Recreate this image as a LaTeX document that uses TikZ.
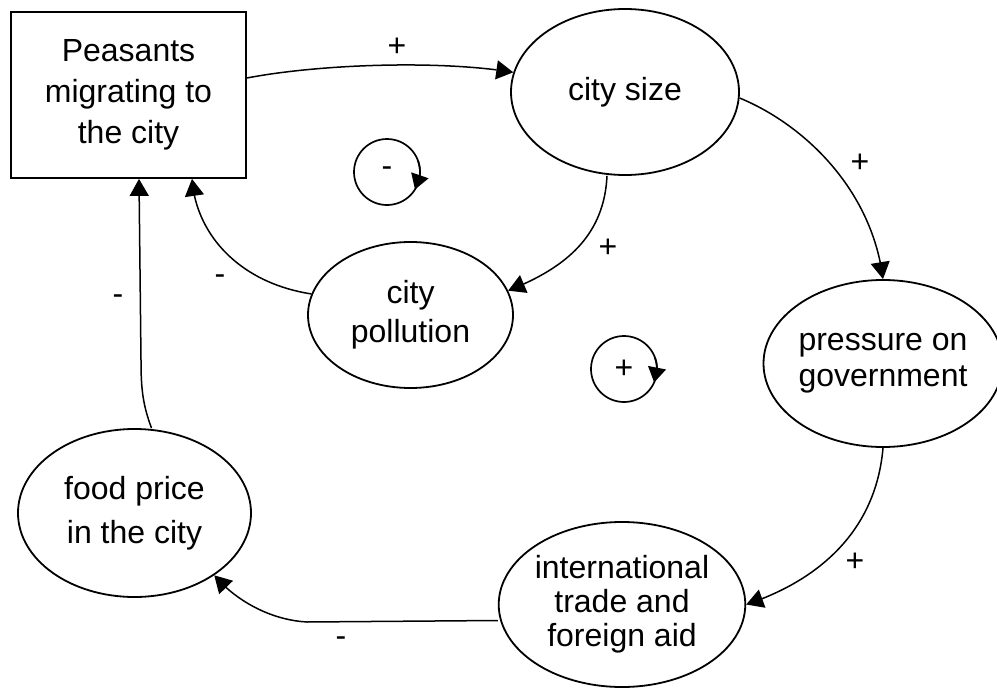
\documentclass[tikz,border=0pt]{standalone}
\usepackage{fontspec}
\setmainfont{Liberation Sans}
\usetikzlibrary{arrows.meta,shapes.geometric,bending}
\begin{document}
\begin{tikzpicture}[x=1pt,y=-1pt,
  every node/.style={inner sep=0pt},
  ell/.style={draw, ellipse, line width=1.8pt, align=center},
  boxnode/.style={draw, rectangle, line width=1.8pt, align=center},
  link/.style={line width=1.5pt, -{Triangle[length=17pt,width=19pt]}},
  sign/.style={font=\fontsize{32}{32}\selectfont},
  loopc/.style={draw, circle, line width=1.7pt, minimum size=66pt, font=\fontsize{32}{32}\selectfont},
  looparr/.style={line width=1.7pt, -{Triangle[length=15pt,width=18pt]}}
]
\useasboundingbox (0,0) rectangle (997,688);

% nodes
\node[boxnode, minimum width=235pt, minimum height=166pt, font=\fontsize{32}{41}\selectfont] (peas) at (128.5,95) {Peasants\\migrating to\\the city};
\node[ell, minimum width=228pt, minimum height=166pt, font=\fontsize{32}{40}\selectfont] (city) at (625,92) {city size};
\node[ell, minimum width=205pt, minimum height=146pt, font=\fontsize{32}{39}\selectfont] (poll) at (410.5,315) {city\\pollution};
\node[ell, minimum width=222pt, minimum height=167pt, font=\fontsize{32}{36}\selectfont] (press) at (883,363.5) {pressure on\\government};
\node[ell, minimum width=233pt, minimum height=168pt, font=\fontsize{32}{44}\selectfont] (food) at (134.5,513) {food price\\in the city};
\node[ell, minimum width=230pt, minimum height=165pt, font=\fontsize{32}{34}\selectfont] (intl) at (622,604.5) {international\\trade and\\foreign aid};

% loop markers
\node[loopc] (lm) at (387,172) {-};
\node[loopc] (lp) at (624,369) {+};
\draw[looparr] ([shift={(-20:33)}]lm.center) arc[start angle=-20, end angle=32, radius=33];
\draw[looparr] ([shift={(-20:33)}]lp.center) arc[start angle=-20, end angle=24, radius=33];

% connectors
\coordinate (bend) at (307,622);
\draw[link] ([yshift=17pt]peas.east) .. controls (320,64) and (440,60) .. (city.170);
\draw[link] (city.-3) .. controls (805,125) and (872,190) .. (press.north);
\draw[link] ([xshift=-18pt]city.south) .. controls (604,240) and (560,270) .. (poll.14);
\draw[link] (poll.168) .. controls (240,283) and (196,235) .. ([xshift=63.5pt]peas.south);
\draw[link] ([xshift=17pt]food.north) .. controls (143,405) and (141,390) .. (141,360) -- ([xshift=10.5pt]peas.south);
\draw[link] (press.south) .. controls (876,530) and (820,580) .. (intl.east);
\draw[link] ([yshift=-16pt]intl.west) -- (bend) .. controls (270,620) and (235,600) .. (food.-38);

% signs
\node[sign] (s1) at (397,47) {+};
\node[sign] (s2) at (860,163) {+};
\node[sign] (s3) at (608,248) {+};
\node[sign] (s4) at (220,280) {-};
\node[sign] (s5) at (118,300) {-};
\node[sign] (s6) at (855,562) {+};
\node[sign] (s7) at (341,642) {-};
\end{tikzpicture}
\end{document}
